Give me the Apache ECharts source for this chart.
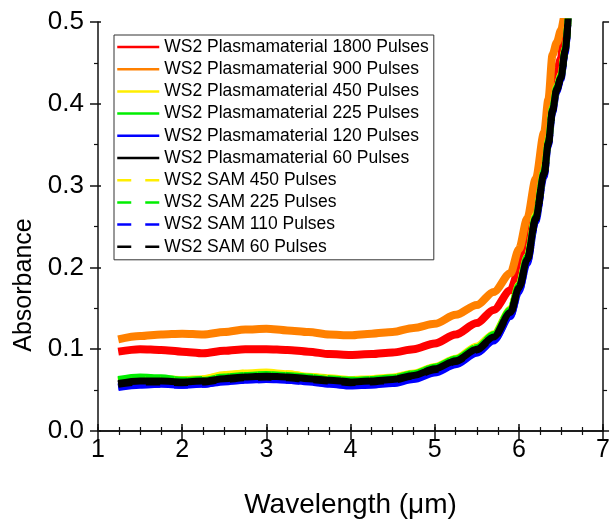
<!DOCTYPE html>
<html>
<head>
<meta charset="utf-8">
<script src="https://cdn.jsdelivr.net/npm/echarts@6/dist/echarts.min.js"></script>
<style>
  html, body { margin: 0; padding: 0; background: #fff; }
  #chart { width: 613px; height: 525px; }
</style>
</head>
<body>
<div id="chart"></div>
<script>
// wavelength in um, shared by all series
var wavelength = [1.24, 1.5, 1.75, 2.0, 2.25, 2.5, 2.75, 3.0, 3.25, 3.5, 3.75, 4.0, 4.25, 4.5, 4.75,
  5.0, 5.25, 5.5, 5.7, 5.9, 6.0, 6.1, 6.2, 6.3, 6.35, 6.4, 6.45, 6.5, 6.55, 6.6];

var plasma1800 = [0.097, 0.100, 0.099, 0.097, 0.095, 0.098, 0.100, 0.100, 0.099, 0.097, 0.094, 0.093, 0.094, 0.096, 0.100,
  0.107, 0.118, 0.132, 0.148, 0.172, 0.196, 0.230, 0.280, 0.331, 0.368, 0.415, 0.440, 0.455, 0.51, 0.54];
var plasma900 = [0.112, 0.116, 0.118, 0.119, 0.118, 0.121, 0.124, 0.125, 0.123, 0.121, 0.118, 0.117, 0.119, 0.121, 0.126,
  0.131, 0.142, 0.154, 0.170, 0.193, 0.222, 0.260, 0.308, 0.365, 0.405, 0.460, 0.475, 0.490, 0.51, 0.54];
var plasma450 = [0.061, 0.064, 0.064, 0.063, 0.064, 0.069, 0.071, 0.072, 0.070, 0.067, 0.065, 0.063, 0.064, 0.066, 0.071,
  0.079, 0.089, 0.104, 0.119, 0.149, 0.179, 0.214, 0.264, 0.318, 0.355, 0.395, 0.421, 0.436, 0.468, 0.53];
var plasma225 = [0.063, 0.066, 0.065, 0.062, 0.063, 0.066, 0.068, 0.069, 0.068, 0.066, 0.064, 0.062, 0.063, 0.065, 0.070,
  0.078, 0.088, 0.102, 0.118, 0.148, 0.178, 0.213, 0.262, 0.318, 0.354, 0.395, 0.420, 0.434, 0.467, 0.53];
var plasma120 = [0.053, 0.056, 0.057, 0.056, 0.057, 0.060, 0.062, 0.063, 0.062, 0.060, 0.057, 0.055, 0.056, 0.058, 0.063,
  0.071, 0.081, 0.095, 0.110, 0.140, 0.170, 0.205, 0.256, 0.311, 0.349, 0.389, 0.415, 0.430, 0.462, 0.53];
var plasma60 = [0.058, 0.061, 0.061, 0.060, 0.061, 0.064, 0.066, 0.067, 0.066, 0.064, 0.062, 0.060, 0.061, 0.063, 0.068,
  0.076, 0.086, 0.100, 0.115, 0.145, 0.175, 0.210, 0.260, 0.315, 0.352, 0.392, 0.418, 0.432, 0.465, 0.53];
var sam450 = [0.060, 0.063, 0.063, 0.062, 0.064, 0.068, 0.071, 0.071, 0.070, 0.067, 0.064, 0.062, 0.063, 0.065, 0.070,
  0.078, 0.088, 0.103, 0.118, 0.148, 0.178, 0.213, 0.263, 0.317, 0.354, 0.394, 0.420, 0.435, 0.467, 0.53];
var sam225 = [0.062, 0.065, 0.064, 0.062, 0.062, 0.066, 0.068, 0.069, 0.068, 0.066, 0.063, 0.062, 0.063, 0.065, 0.070,
  0.078, 0.088, 0.102, 0.117, 0.147, 0.177, 0.212, 0.262, 0.317, 0.354, 0.394, 0.420, 0.434, 0.466, 0.53];
var sam110 = [0.054, 0.057, 0.057, 0.056, 0.057, 0.061, 0.062, 0.063, 0.062, 0.060, 0.058, 0.056, 0.057, 0.059, 0.064,
  0.072, 0.082, 0.096, 0.111, 0.141, 0.171, 0.206, 0.257, 0.312, 0.350, 0.390, 0.416, 0.431, 0.463, 0.53];
var sam60 = [0.057, 0.060, 0.060, 0.059, 0.060, 0.063, 0.065, 0.066, 0.065, 0.063, 0.061, 0.059, 0.060, 0.062, 0.067,
  0.075, 0.085, 0.099, 0.114, 0.144, 0.174, 0.209, 0.259, 0.314, 0.351, 0.391, 0.417, 0.432, 0.464, 0.53];

var xTicks = [1, 2, 3, 4, 5, 6, 7];
var yTicks = [0.0, 0.1, 0.2, 0.3, 0.4, 0.5];

var FONT = '"Liberation Sans", Arial, sans-serif';

function pairs(vals) {
  var out = [];
  for (var i = 0; i < wavelength.length; i++) {
    out.push([wavelength[i], vals[i]]);
  }
  return out;
}

// name, values, colour, dashed, width, z
var seriesDefs = [
  ['WS2 Plasmamaterial 1800 Pulses', plasma1800, '#ff0000', false, 8, 3],
  ['WS2 Plasmamaterial 900 Pulses', plasma900, '#ff8000', false, 8, 3],
  ['WS2 Plasmamaterial 450 Pulses', plasma450, '#ffee00', false, 7, 3],
  ['WS2 Plasmamaterial 225 Pulses', plasma225, '#00ee00', false, 7, 3],
  ['WS2 Plasmamaterial 120 Pulses', plasma120, '#0000ff', false, 7, 2],
  ['WS2 Plasmamaterial 60 Pulses', plasma60, '#000000', false, 7, 6],
  ['WS2 SAM 450 Pulses', sam450, '#ffee00', true, 7, 3],
  ['WS2 SAM 225 Pulses', sam225, '#00ee00', true, 7, 3],
  ['WS2 SAM 110 Pulses', sam110, '#0000ff', true, 7, 2],
  ['WS2 SAM 60 Pulses', sam60, '#000000', true, 7, 5]
];

var series = [];
var legendData = [];
for (var i = 0; i < seriesDefs.length; i++) {
  var d = seriesDefs[i];
  legendData.push({
    name: d[0],
    itemStyle: { opacity: 0 },
    lineStyle: { color: d[2], width: 2.5, type: d[3] ? [14, 14] : 'solid' }
  });
  series.push({
    type: 'line',
    name: d[0],
    data: pairs(d[1]),
    xAxisIndex: 0,
    yAxisIndex: 0,
    showSymbol: false,
    symbol: 'none',
    smooth: 0.3,
    smoothMonotone: 'x',
    z: d[5],
    color: d[2],
    lineStyle: {
      color: d[2],
      width: d[4],
      type: d[3] ? [14, 14] : 'solid'
    }
  });
}

var axisLine = { show: true, lineStyle: { color: '#111', width: 1.5 } };

var myChart = echarts.init(document.getElementById('chart'));
myChart.setOption({
  animation: false,
  backgroundColor: '#fff',
  textStyle: { fontFamily: FONT },
  grid: { left: 98, right: 7, top: 22, bottom: 94 },
  legend: {
    data: legendData,
    orient: 'vertical',
    left: 114,
    top: 35,
    padding: [3, 5, 4, 2],
    itemWidth: 42,
    itemHeight: 18,
    itemGap: 4.2,
    backgroundColor: '#fff',
    borderColor: '#333',
    borderWidth: 1,
    itemStyle: { opacity: 0 },
    lineStyle: { width: 2.5 },
    textStyle: { fontSize: 17.5, color: '#000', fontFamily: FONT, lineHeight: 18 }
  },
  xAxis: [
    {
      type: 'value',
      position: 'bottom',
      min: 1, max: 7, interval: 1,
      name: 'Wavelength (\u03bcm)',
      nameLocation: 'middle',
      nameGap: 60,
      nameTextStyle: { fontSize: 28, color: '#000', fontFamily: FONT },
      axisLine: axisLine,
      axisTick: { show: true, inside: false, length: 9, lineStyle: { color: '#111', width: 1.5 } },
      minorTick: { show: true, splitNumber: 4, length: 4, lineStyle: { color: '#111', width: 1.2 } },
      axisLabel: {
        fontSize: 25, color: '#000', margin: 7, fontFamily: FONT,
        formatter: function (v) { return xTicks.indexOf(v) >= 0 ? String(v) : ''; }
      },
      splitLine: { show: false }
    },
    {
      type: 'value',
      position: 'top',
      min: 1, max: 7, interval: 1,
      axisLine: axisLine,
      axisTick: { show: true, inside: false, length: 7, lineStyle: { color: '#111', width: 1.5 } },
      minorTick: { show: true, splitNumber: 4, length: 4, lineStyle: { color: '#111', width: 1.2 } },
      axisLabel: { show: false },
      splitLine: { show: false }
    },
    {
      // inner half of the crossing ticks on the bottom axis
      type: 'value',
      position: 'bottom',
      min: 1, max: 7, interval: 1,
      axisLine: { show: false },
      axisTick: { show: true, inside: true, length: 4, lineStyle: { color: '#111', width: 1.5 } },
      axisLabel: { show: false },
      splitLine: { show: false }
    }
  ],
  yAxis: [
    {
      type: 'value',
      position: 'left',
      min: 0, max: 0.5, interval: 0.1,
      axisLine: axisLine,
      axisTick: { show: true, inside: false, length: 8, lineStyle: { color: '#111', width: 1.5 } },
      minorTick: { show: true, splitNumber: 2, length: 4, lineStyle: { color: '#111', width: 1.2 } },
      axisLabel: {
        fontSize: 26, color: '#000', margin: 14, fontFamily: FONT,
        formatter: function (v) { return v.toFixed(1); }
      },
      splitLine: { show: false }
    },
    {
      type: 'value',
      position: 'right',
      min: 0, max: 0.5, interval: 0.1,
      axisLine: axisLine,
      axisTick: { show: true, inside: false, length: 6, lineStyle: { color: '#111', width: 1.5 } },
      minorTick: { show: true, splitNumber: 2, length: 4, lineStyle: { color: '#111', width: 1.2 } },
      axisLabel: { show: false },
      splitLine: { show: false }
    },
    {
      type: 'value',
      position: 'left',
      min: 0, max: 0.5, interval: 0.1,
      axisLine: { show: false },
      axisTick: { show: true, inside: true, length: 3, lineStyle: { color: '#111', width: 1.5 } },
      axisLabel: { show: false },
      splitLine: { show: false }
    }
  ],
  graphic: [
    {
      type: 'text',
      x: 24,
      y: 285,
      rotation: Math.PI / 2,
      style: {
        text: 'Absorbance',
        fontSize: 25,
        fontFamily: FONT,
        fill: '#000',
        textAlign: 'center',
        textVerticalAlign: 'middle'
      }
    }
  ],
  series: series
});
</script>
</body>
</html>
